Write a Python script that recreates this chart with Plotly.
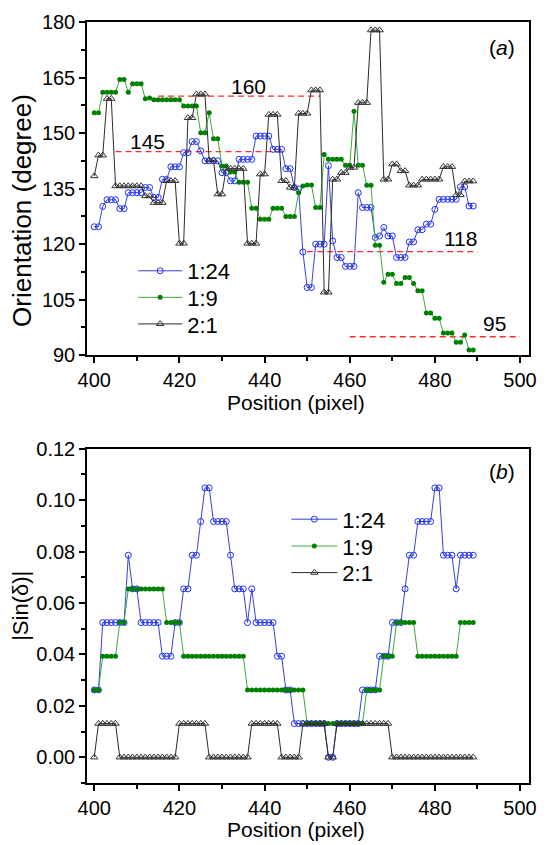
import plotly.graph_objects as go

FONT = "Arial, 'Liberation Sans', sans-serif"

positions = [400, 401, 402, 403, 404, 405, 406, 407, 408, 409,
             410, 411, 412, 413, 414, 415, 416, 417, 418, 419,
             420, 421, 422, 423, 424, 425, 426, 427, 428, 429,
             430, 431, 432, 433, 434, 435, 436, 437, 438, 439,
             440, 441, 442, 443, 444, 445, 446, 447, 448, 449,
             450, 451, 452, 453, 454, 455, 456, 457, 458, 459,
             460, 461, 462, 463, 464, 465, 466, 467, 468, 469,
             470, 471, 472, 473, 474, 475, 476, 477, 478, 479,
             480, 481, 482, 483, 484, 485, 486, 487, 488, 489]

series_names = ["1:24", "1:9", "2:1"]

# Panel (a): orientation (degree)
orient_1_24 = [124.7, 124.7, 130.2, 132.0, 132.0, 132.0, 129.6, 129.6, 133.9, 133.9,
               133.9, 133.9, 135.3, 135.3, 132.6, 132.6, 137.5, 137.5, 140.9, 140.9,
               140.9, 144.7, 144.7, 147.7, 147.7, 145.2, 142.5, 142.5, 142.5, 142.5,
               139.3, 139.3, 137.1, 137.1, 142.9, 142.9, 142.9, 142.9, 149.2, 149.2,
               149.2, 149.2, 145.6, 145.6, 145.6, 140.4, 140.4, 135.3, 134.9, 117.9,
               108.3, 108.3, 120.0, 120.0, 120.0, 141.2, 120.9, 116.4, 116.4, 114.0,
               114.0, 114.0, 133.9, 129.9, 129.9, 129.9, 121.8, 122.2, 124.5, 122.2,
               122.2, 116.4, 116.4, 116.4, 120.6, 120.6, 123.9, 123.9, 125.4, 125.4,
               129.4, 132.1, 132.1, 132.1, 132.1, 132.1, 135.5, 135.5, 130.3, 130.3]

orient_1_9 = [155.5, 155.5, 161.0, 161.0, 161.0, 161.0, 164.5, 164.5, 161.0, 163.3,
              163.3, 163.3, 159.3, 159.5, 159.0, 159.0, 159.0, 159.0, 159.0, 159.0,
              159.0, 157.3, 157.3, 157.3, 157.3, 150.1, 150.1, 155.5, 148.5, 148.5,
              141.1, 141.1, 139.5, 139.5, 136.7, 136.7, 136.7, 129.7, 129.7, 126.7,
              126.7, 126.7, 129.7, 129.7, 129.7, 127.5, 127.5, 127.5, 133.9, 135.7,
              136.0, 136.0, 129.9, 129.9, 144.2, 142.9, 142.9, 142.9, 142.9, 141.3,
              141.3, 155.9, 141.3, 141.3, 135.9, 135.9, 119.7, 119.7, 109.7, 111.9,
              111.9, 109.4, 109.4, 111.0, 111.0, 109.4, 107.4, 107.4, 101.4, 101.4,
              100.0, 100.0, 96.0, 96.0, 96.0, 93.5, 93.5, 95.5, 91.4, 91.4]

orient_2_1 = [138.4, 144.0, 144.0, 159.3, 159.3, 135.7, 135.7, 135.7, 135.7, 135.7,
              135.7, 135.7, 133.0, 133.0, 131.2, 131.2, 131.2, 137.1, 137.1, 137.1,
              120.2, 120.2, 154.1, 154.1, 160.5, 160.5, 160.5, 142.7, 142.7, 133.5,
              133.5, 140.4, 140.4, 140.4, 140.4, 140.4, 120.2, 120.2, 120.2, 138.9,
              138.9, 155.0, 155.0, 155.0, 137.1, 137.1, 135.3, 135.3, 155.3, 155.3,
              155.3, 161.6, 161.6, 161.6, 107.0, 107.0, 137.5, 137.5, 139.3, 139.3,
              140.7, 140.7, 158.2, 158.2, 158.2, 177.8, 177.8, 177.8, 137.5, 137.5,
              141.6, 141.6, 139.8, 139.8, 135.9, 135.9, 135.9, 137.5, 137.5, 137.5,
              137.5, 137.5, 140.9, 140.9, 140.9, 133.3, 133.3, 137.0, 137.0, 137.0]

# Panel (b): |Sin(delta)|
sin_1_24 = [0.0262, 0.0262, 0.0524, 0.0524, 0.0524, 0.0524, 0.0524, 0.0524, 0.0786, 0.0655,
            0.0655, 0.0524, 0.0524, 0.0524, 0.0524, 0.0524, 0.0393, 0.0393, 0.0393, 0.0524,
            0.0524, 0.0655, 0.0655, 0.0786, 0.0786, 0.0917, 0.1048, 0.1048, 0.0917, 0.0917,
            0.0917, 0.0917, 0.0786, 0.0655, 0.0655, 0.0655, 0.0524, 0.0655, 0.0524, 0.0524,
            0.0524, 0.0524, 0.0524, 0.0393, 0.0393, 0.0262, 0.0262, 0.0131, 0.0131, 0.0131,
            0.0131, 0.0131, 0.0131, 0.0131, 0.0131, 0.0, 0.0, 0.0131, 0.0131, 0.0131,
            0.0131, 0.0131, 0.0131, 0.0262, 0.0262, 0.0262, 0.0262, 0.0393, 0.0393, 0.0393,
            0.0524, 0.0524, 0.0524, 0.0655, 0.0786, 0.0786, 0.0917, 0.0917, 0.0917, 0.0917,
            0.1048, 0.1048, 0.0786, 0.0786, 0.0786, 0.0655, 0.0786, 0.0786, 0.0786, 0.0786]

sin_1_9 = [0.0262, 0.0262, 0.0393, 0.0393, 0.0393, 0.0393, 0.0524, 0.0524, 0.0655, 0.0655,
           0.0655, 0.0655, 0.0655, 0.0655, 0.0655, 0.0655, 0.0655, 0.0524, 0.0524, 0.0524,
           0.0524, 0.0393, 0.0393, 0.0393, 0.0393, 0.0393, 0.0393, 0.0393, 0.0393, 0.0393,
           0.0393, 0.0393, 0.0393, 0.0393, 0.0393, 0.0393, 0.0262, 0.0262, 0.0262, 0.0262,
           0.0262, 0.0262, 0.0262, 0.0262, 0.0262, 0.0262, 0.0262, 0.0262, 0.0262, 0.0262,
           0.0131, 0.0131, 0.0131, 0.0131, 0.0131, 0.0131, 0.0131, 0.0131, 0.0131, 0.0131,
           0.0131, 0.0131, 0.0131, 0.0131, 0.0262, 0.0262, 0.0262, 0.0262, 0.0393, 0.0393,
           0.0393, 0.0524, 0.0524, 0.0524, 0.0524, 0.0524, 0.0393, 0.0393, 0.0393, 0.0393,
           0.0393, 0.0393, 0.0393, 0.0393, 0.0393, 0.0393, 0.0524, 0.0524, 0.0524, 0.0524]

sin_2_1 = [0.0, 0.0131, 0.0131, 0.0131, 0.0131, 0.0131, 0.0, 0.0, 0.0, 0.0,
           0.0, 0.0, 0.0, 0.0, 0.0, 0.0, 0.0, 0.0, 0.0, 0.0,
           0.0131, 0.0131, 0.0131, 0.0131, 0.0131, 0.0131, 0.0131, 0.0, 0.0, 0.0,
           0.0, 0.0, 0.0, 0.0, 0.0, 0.0, 0.0, 0.0131, 0.0131, 0.0131,
           0.0131, 0.0131, 0.0131, 0.0131, 0.0, 0.0, 0.0, 0.0, 0.0, 0.0131,
           0.0131, 0.0131, 0.0131, 0.0131, 0.0131, 0.0, 0.0, 0.0131, 0.0131, 0.0131,
           0.0131, 0.0131, 0.0131, 0.0131, 0.0131, 0.0131, 0.0131, 0.0131, 0.0131, 0.0131,
           0.0, 0.0, 0.0, 0.0, 0.0, 0.0, 0.0, 0.0, 0.0, 0.0,
           0.0, 0.0, 0.0, 0.0, 0.0, 0.0, 0.0, 0.0, 0.0, 0.0]

# Reference (dashed) levels in panel (a)
ref_levels = [160, 145, 118, 95]
ref_start = [415, 405, 450, 460]
ref_end = [453, 445, 490, 500]
ref_label_x = [436.3, 412.4, 486.0, 494.1]
ref_label_y = [162.5, 147.7, 121.5, 98.6]

pos_ticks = [400, 420, 440, 460, 480, 500]
orient_ticks = [90, 105, 120, 135, 150, 165, 180]
sin_ticks = [0.00, 0.02, 0.04, 0.06, 0.08, 0.10, 0.12]
sin_ticktext = ["0.00", "0.02", "0.04", "0.06", "0.08", "0.10", "0.12"]

styles = [
    dict(line=dict(color="#3545d0", width=1),
         marker=dict(symbol="circle-open", size=6, color="#2030ff", line=dict(width=1))),
    dict(line=dict(color="#3aaa3a", width=1),
         marker=dict(symbol="circle", size=5, color="#008000", line=dict(width=0))),
    dict(line=dict(color="#2a2a2a", width=1),
         marker=dict(symbol="triangle-up-open", size=6.5, color="#333333", line=dict(width=1))),
]

legends_a = ["legend", "legend2", "legend3"]
legends_b = ["legend4", "legend5", "legend6"]

fig = go.Figure()

for lvl, x0, x1 in zip(ref_levels, ref_start, ref_end):
    fig.add_trace(go.Scatter(x=[x0, x1], y=[lvl, lvl], mode="lines",
                             line=dict(color="#ff2a2a", width=1.3, dash="6px,4px"),
                             showlegend=False, hoverinfo="skip", xaxis="x", yaxis="y"))

for name, vals, st, lg in zip(series_names, [orient_1_24, orient_1_9, orient_2_1], styles, legends_a):
    fig.add_trace(go.Scatter(x=positions, y=vals, mode="lines+markers", name=name,
                             line=st["line"], marker=st["marker"],
                             xaxis="x", yaxis="y", legend=lg))

for name, vals, st, lg in zip(series_names, [sin_1_24, sin_1_9, sin_2_1], styles, legends_b):
    fig.add_trace(go.Scatter(x=positions, y=vals, mode="lines+markers", name=name,
                             line=st["line"], marker=st["marker"],
                             xaxis="x2", yaxis="y2", legend=lg))

axis_common = dict(showline=True, linecolor="black", linewidth=1.5, mirror=True,
                   ticks="outside", ticklen=6, tickwidth=1.5, tickcolor="black",
                   showgrid=False, zeroline=False,
                   tickfont=dict(family=FONT, size=20, color="black"))

annotations = []
for txt, xx, yy in zip(ref_levels, ref_label_x, ref_label_y):
    annotations.append(dict(text=str(txt), x=xx, y=yy, xref="x", yref="y", showarrow=False,
                            xanchor="center", yanchor="middle",
                            font=dict(family=FONT, size=21, color="black")))
annotations.append(dict(text="(<i>a</i>)", x=0.94, y=0.966, xref="paper", yref="paper",
                        xanchor="center", yanchor="middle", showarrow=False,
                        font=dict(family=FONT, size=21, color="black")))
annotations.append(dict(text="(<i>b</i>)", x=0.94, y=0.4092, xref="paper", yref="paper",
                        xanchor="center", yanchor="middle", showarrow=False,
                        font=dict(family=FONT, size=21, color="black")))
# axis titles
annotations.append(dict(text="Position (pixel)", x=0.4733, y=0.4995, xref="paper", yref="paper",
                        xanchor="center", yanchor="middle", showarrow=False,
                        font=dict(family=FONT, size=21, color="black")))
annotations.append(dict(text="Position (pixel)", x=0.4733, y=-0.0612, xref="paper", yref="paper",
                        xanchor="center", yanchor="middle", showarrow=False,
                        font=dict(family=FONT, size=21, color="black")))
annotations.append(dict(text="Orientation (degree)", x=-0.1467, y=0.752, xref="paper", yref="paper",
                        xanchor="center", yanchor="middle", textangle=-90, showarrow=False,
                        font=dict(family=FONT, size=26, color="black")))
annotations.append(dict(text="|Sin(δ)|", x=-0.1489, y=0.233, xref="paper", yref="paper",
                        xanchor="center", yanchor="middle", textangle=-90, showarrow=False,
                        font=dict(family=FONT, size=22, color="black")))

legend_common = dict(xanchor="left", yanchor="middle", bgcolor="rgba(0,0,0,0)",
                     font=dict(family=FONT, size=22, color="black"),
                     tracegroupgap=0, borderwidth=0)

row_y_a = [268.3, 295.0, 321.7]
row_y_b = [518.0, 545.0, 571.7]
legend_layout = {}
for lg, ypx in zip(legends_a, row_y_a):
    legend_layout[lg] = dict(x=0.1044, y=1 - (ypx - 18) / 765, itemwidth=44, **legend_common)
for lg, ypx in zip(legends_b, row_y_b):
    legend_layout[lg] = dict(x=0.451, y=1 - (ypx - 18) / 765, itemwidth=46, **legend_common)

fig.update_layout(
    width=548, height=845, autosize=False,
    margin=dict(l=87, r=11, t=18, b=62),
    paper_bgcolor="white", plot_bgcolor="white",
    font=dict(family=FONT, color="black"),
    xaxis=dict(domain=[0, 1], range=[398.3, 502.1], tickvals=pos_ticks, anchor="y",
               minor=dict(ticks="outside", ticklen=4, tickwidth=1.5, tickcolor="black",
                          tick0=400, dtick=10),
               **axis_common),
    yaxis=dict(domain=[0.5621, 1], range=[90, 180], tickvals=orient_ticks, anchor="x",
               minor=dict(ticks="outside", ticklen=4, tickwidth=1.5, tickcolor="black",
                          tick0=90, dtick=7.5),
               **axis_common),
    xaxis2=dict(domain=[0, 1], range=[398.3, 502.1], tickvals=pos_ticks, anchor="y2",
                minor=dict(ticks="outside", ticklen=4, tickwidth=1.5, tickcolor="black",
                           tick0=400, dtick=10),
                **axis_common),
    yaxis2=dict(domain=[0, 0.4392], range=[-0.01, 0.12], tickvals=sin_ticks,
                ticktext=sin_ticktext, anchor="x2",
                minor=dict(ticks="outside", ticklen=4, tickwidth=1.5, tickcolor="black",
                           tick0=0, dtick=0.01),
                **axis_common),
    annotations=annotations,
    **legend_layout,
)

fig.write_html("out.html",
               config={"displayModeBar": False},
               post_script="document.body.style.margin='0';document.body.style.overflow='hidden';")
